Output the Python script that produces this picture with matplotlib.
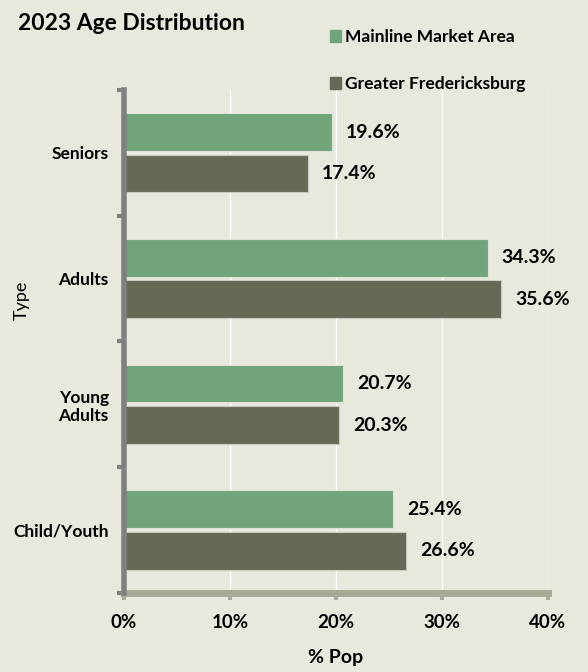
import matplotlib
matplotlib.use("Agg")
import matplotlib.pyplot as plt
from matplotlib.patches import Patch
import numpy as np

categories = ["Seniors", "Adults", "Young\nAdults", "Child/Youth"]
mainline = [19.6, 34.3, 20.7, 25.4]
fredericksburg = [17.4, 35.6, 20.3, 26.6]
x_ticks = [0, 10, 20, 30, 40]
x_tick_labels = ["0%", "10%", "20%", "30%", "40%"]

BG = "#E9E8DD"
GREEN = "#71A47A"
DARK = "#666953"

plt.rcParams["font.family"] = ["Lato", "DejaVu Sans"]

fig = plt.figure(figsize=(5.88, 6.72), dpi=100, facecolor=BG)
ax = fig.add_axes([0.2109, 0.1176, 0.7211, 0.7485], facecolor=BG)

n = len(categories)
y = np.arange(n)[::-1].astype(float)  # Seniors on top
h = 0.30
off = 0.165

b1 = ax.barh(y + off, mainline, height=h, color=GREEN, edgecolor="#DDE3D6", linewidth=0.8, zorder=3)
b2 = ax.barh(y - off, fredericksburg, height=h, color=DARK, edgecolor="#C9CBBE", linewidth=0.8, zorder=3)

for bars, vals in ((b1, mainline), (b2, fredericksburg)):
    for bar, v in zip(bars, vals):
        ax.text(v + 1.3, bar.get_y() + bar.get_height() / 2, f"{v:.1f}%",
                va="center", ha="left", fontsize=14, fontweight="bold", color="black")

ax.set_xlim(0, 40)
ax.set_ylim(-0.5, n - 0.5)
ax.set_xticks(x_ticks)
ax.set_xticklabels(x_tick_labels, fontsize=13.5, fontweight="bold")
ax.set_yticks(y)
ax.set_yticklabels(categories, fontsize=12.5, fontweight="bold", ha="right")
ax.tick_params(axis="y", length=0, pad=11)
ax.set_yticks(np.arange(n + 1) - 0.5, minor=True)
ax.tick_params(axis="y", which="minor", length=5, width=3, color="#808080", direction="out")
ax.tick_params(axis="x", length=5, width=3, color="#A8AA96", pad=10)

ax.grid(axis="x", color="white", linewidth=1.0, zorder=0)
for s in ("top", "right"):
    ax.spines[s].set_visible(False)
ax.spines["left"].set_color("#808080")
ax.spines["left"].set_linewidth(4)
ax.spines["bottom"].set_color("#A8AA96")
ax.spines["bottom"].set_linewidth(5)
ax.spines["left"].set_zorder(4)

ax.set_xlabel("% Pop", fontsize=14, fontweight="bold", labelpad=13)

fig.text(22 / 588, 1 - 300 / 672, "Type", fontsize=13, rotation=90, va="center", ha="center")
fig.text(18 / 588, 1 - 23 / 672, "2023 Age Distribution", fontsize=16.5, fontweight="bold",
         va="center", ha="left")

handles = [Patch(color=GREEN, label="Mainline Market Area"),
           Patch(color=DARK, label="Greater Fredericksburg")]
fig.legend(handles=handles, loc="upper left", bbox_to_anchor=(0.555, 0.962), frameon=False,
           prop={"weight": "bold", "size": 12.5}, handlelength=0.65, handleheight=0.65,
           handletextpad=0.25, labelspacing=1.8, borderpad=0.2, borderaxespad=0)

fig.savefig("out.png", dpi=100, facecolor=BG)
